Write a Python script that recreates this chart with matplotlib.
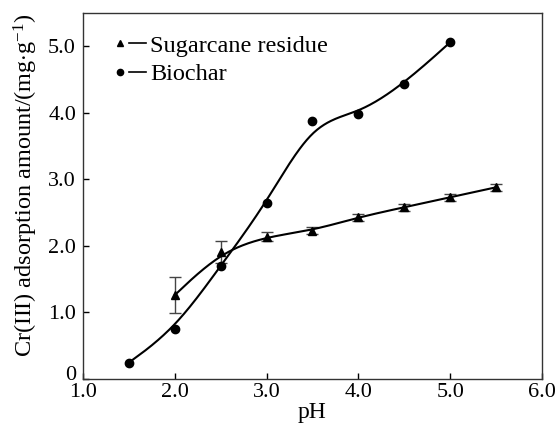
import numpy as np
import matplotlib
matplotlib.use("Agg")
import matplotlib.pyplot as plt
import matplotlib.transforms as mtransforms
from matplotlib.lines import Line2D
from matplotlib.legend_handler import HandlerTuple

plt.rcParams["font.family"] = ["Liberation Serif", "DejaVu Serif"]
plt.rcParams["mathtext.fontset"] = "custom"
plt.rcParams["mathtext.rm"] = "Liberation Serif"
plt.rcParams["mathtext.it"] = "Liberation Serif:italic"

# data
ph_sugar = [2.0, 2.5, 3.0, 3.5, 4.0, 4.5, 5.0, 5.5]
q_sugar = [1.26, 1.91, 2.14, 2.23, 2.43, 2.58, 2.73, 2.88]
err_sugar = [0.27, 0.17, 0.07, 0.05, 0.05, 0.05, 0.05, 0.05]

ph_bio = [1.5, 2.0, 2.5, 3.0, 3.5, 4.0, 4.5, 5.0]
q_bio = [0.245, 0.75, 1.70, 2.64, 3.87, 3.98, 4.44, 5.06]

xticks = [1.0, 2.0, 3.0, 4.0, 5.0, 6.0]
xlabels = ["1.0", "2.0", "3.0", "4.0", "5.0", "6.0"]
yticks = [0, 1.0, 2.0, 3.0, 4.0, 5.0]
ylabels = ["0", "1.0", "2.0", "3.0", "4.0", "5.0"]


def bspline(x, y, n=40):
    # uniform cubic B-spline, control points = data, ends clamped
    P = np.column_stack([x, y]).astype(float)
    P = np.vstack([P[0], P[0], P, P[-1], P[-1]])
    t = np.linspace(0, 1, n, endpoint=False)
    b0 = (1 - t) ** 3 / 6
    b1 = (3 * t**3 - 6 * t**2 + 4) / 6
    b2 = (-3 * t**3 + 3 * t**2 + 3 * t + 1) / 6
    b3 = t**3 / 6
    pts = []
    for i in range(len(P) - 3):
        seg = (np.outer(b0, P[i]) + np.outer(b1, P[i + 1])
               + np.outer(b2, P[i + 2]) + np.outer(b3, P[i + 3]))
        pts.append(seg)
    pts.append(P[-1:])
    pts = np.vstack(pts)
    return pts[:, 0], pts[:, 1]


fig = plt.figure(figsize=(5.57, 4.34), dpi=100)
ax = fig.add_axes([0.149, 0.127, 0.824, 0.843])

sx, sy = bspline(ph_sugar, q_sugar)
bx, by = bspline(ph_bio, q_bio)
ax.plot(sx, sy, color="black", lw=1.5, zorder=3)
ax.plot(bx, by, color="black", lw=1.5, zorder=3)

ax.errorbar(ph_sugar, q_sugar, yerr=err_sugar, fmt="none", ecolor="#444444",
            elinewidth=1.0, capsize=4, capthick=1.0, zorder=2)
ax.plot(ph_sugar, q_sugar, "^", color="black", ms=5.5, zorder=4)
ax.plot(ph_bio, q_bio, "o", color="black", ms=6, zorder=4)

ax.set_xlim(1.0, 6.0)
ax.set_ylim(0, 5.5)
ax.set_xticks(xticks)
ax.set_xticklabels(xlabels)
ax.set_yticks(yticks)
ax.set_yticklabels(ylabels)
ax.tick_params(direction="in", length=4, width=1, labelsize=16)
ax.tick_params(axis="x", pad=3)
ax.tick_params(axis="y", pad=5)
for s in ax.spines.values():
    s.set_linewidth(1.0)
    s.set_color("#333333")

# the "0" label sits a little higher in the original
zero_lab = ax.get_yticklabels()[0]
zero_lab.set_transform(zero_lab.get_transform()
                       + mtransforms.ScaledTranslation(0, 6 / 100, fig.dpi_scale_trans))

ax.set_xlabel("pH", fontsize=17, labelpad=0)
ax.set_ylabel(r"Cr(III) adsorption amount/(mg$\cdot$g$^{-1}$)", fontsize=17.5)
ax.yaxis.set_label_coords(-0.094, 0.53)

h_tri = Line2D([], [], marker="^", color="black", ls="none", ms=4.5)
h_dot = Line2D([], [], marker="o", color="black", ls="none", ms=4.5)
h_line = Line2D([], [], color="black", lw=1.2)
ax.legend([(h_tri, h_line), (h_dot, h_line)], ["Sugarcane residue", "Biochar"],
          handler_map={tuple: HandlerTuple(ndivide=2, pad=0.0)},
          loc="upper left", bbox_to_anchor=(0.061, 0.94), frameon=False,
          fontsize=17.5, handlelength=1.46, handletextpad=0.15, labelspacing=0.25,
          borderaxespad=0.0, borderpad=0.0)

fig.savefig("out.png", dpi=100)
